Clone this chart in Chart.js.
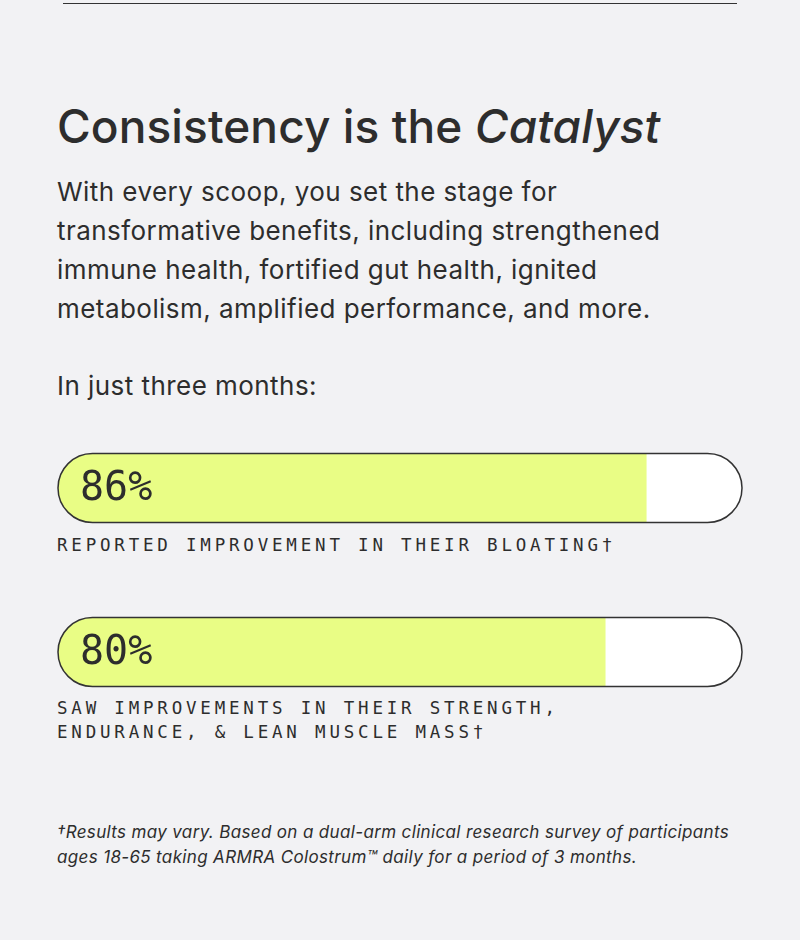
<!DOCTYPE html>
<html><head><meta charset="utf-8">
<script src="https://cdn.jsdelivr.net/npm/chart.js@4"></script>
<style>
html,body{margin:0;padding:0;background:#f2f2f4;width:800px;height:940px;overflow:hidden;font-family:Inter,"Noto Sans",sans-serif;color:#2d2d2d}
.rule{position:absolute;left:63px;top:3px;width:674px;height:1px;background:#333}
h1{position:absolute;left:57px;top:98px;margin:0;font-size:46px;font-weight:500;letter-spacing:0.1px;line-height:56px}
.p{position:absolute;left:57px;top:172px;font-size:26px;letter-spacing:0.45px;line-height:39px;width:720px}
.q{position:absolute;left:57px;top:370px;font-size:26px;letter-spacing:0.45px}
.bar{position:absolute;left:56px;width:688px;height:72px}
.pct{position:absolute;left:80px;font-size:40px;font-family:"DejaVu Sans Mono",monospace;font-weight:300;letter-spacing:0px}
.lab{position:absolute;left:57px;font-family:"DejaVu Sans Mono",monospace;font-size:17.5px;letter-spacing:3.8px;line-height:24px}
.foot{position:absolute;left:57px;top:820px;font-size:17px;font-style:italic;letter-spacing:0.35px;line-height:25px}
</style></head><body>
<div class="rule"></div>
<h1>Consistency is the <i>Catalyst</i></h1>
<div class="p">With every scoop, you set the stage for<br>transformative benefits, including strengthened<br>immune health, fortified gut health, ignited<br>metabolism, amplified performance, and more.</div>
<div class="q">In just three months:</div>
<div class="bar" style="top:452px"><canvas id="c1"></canvas></div>
<div class="pct" style="top:463px" id="t1"></div>
<div class="lab" style="top:533px" id="l1"></div>
<div class="bar" style="top:616px"><canvas id="c2"></canvas></div>
<div class="pct" style="top:627px" id="t2"></div>
<div class="lab" style="top:696px" id="l2"></div>
<div class="foot">†Results may vary. Based on a dual-arm clinical research survey of participants<br>ages 18-65 taking ARMRA Colostrum™ daily for a period of 3 months.</div>
<script>
const categories = ["REPORTED IMPROVEMENT IN THEIR BLOATING†", "SAW IMPROVEMENTS IN THEIR STRENGTH,<br>ENDURANCE, &amp; LEAN MUSCLE MASS†"];
const values = [86, 80];
const pctLabels = ["86%", "80%"];
const pill = {
  id:'pill',
  beforeDatasetsDraw(ch){
    const x=ch.scales.x, a=ch.chartArea, c=ch.ctx;
    const l=x.getPixelForValue(0), r=x.getPixelForValue(100), h=a.bottom-a.top;
    c.save(); c.beginPath(); c.roundRect(l,a.top,r-l,h,h/2); c.fillStyle='#fff'; c.fill(); c.clip();
  },
  afterDatasetsDraw(ch){
    const x=ch.scales.x, a=ch.chartArea, c=ch.ctx;
    c.restore();
    const l=x.getPixelForValue(0), r=x.getPixelForValue(100), h=a.bottom-a.top;
    c.save(); c.beginPath(); c.roundRect(l,a.top,r-l,h,h/2); c.lineWidth=1.5; c.strokeStyle='#333'; c.stroke(); c.restore();
  }
};
values.forEach((v,i)=>{
  document.getElementById('t'+(i+1)).textContent=pctLabels[i];
  document.getElementById('l'+(i+1)).innerHTML=categories[i];
  new Chart(document.getElementById('c'+(i+1)),{
    type:'bar',
    data:{labels:[''],datasets:[{data:[v],backgroundColor:'#e9fd85',borderWidth:0,barPercentage:1,categoryPercentage:1}]},
    options:{indexAxis:'y',responsive:true,maintainAspectRatio:false,animation:false,
      layout:{padding:{left:2,right:2,top:1.5,bottom:1.5}},
      plugins:{legend:{display:false},tooltip:{enabled:false}},
      scales:{x:{min:0,max:100,display:false},y:{display:false}}},
    plugins:[pill]
  });
});
</script>
</body></html>
